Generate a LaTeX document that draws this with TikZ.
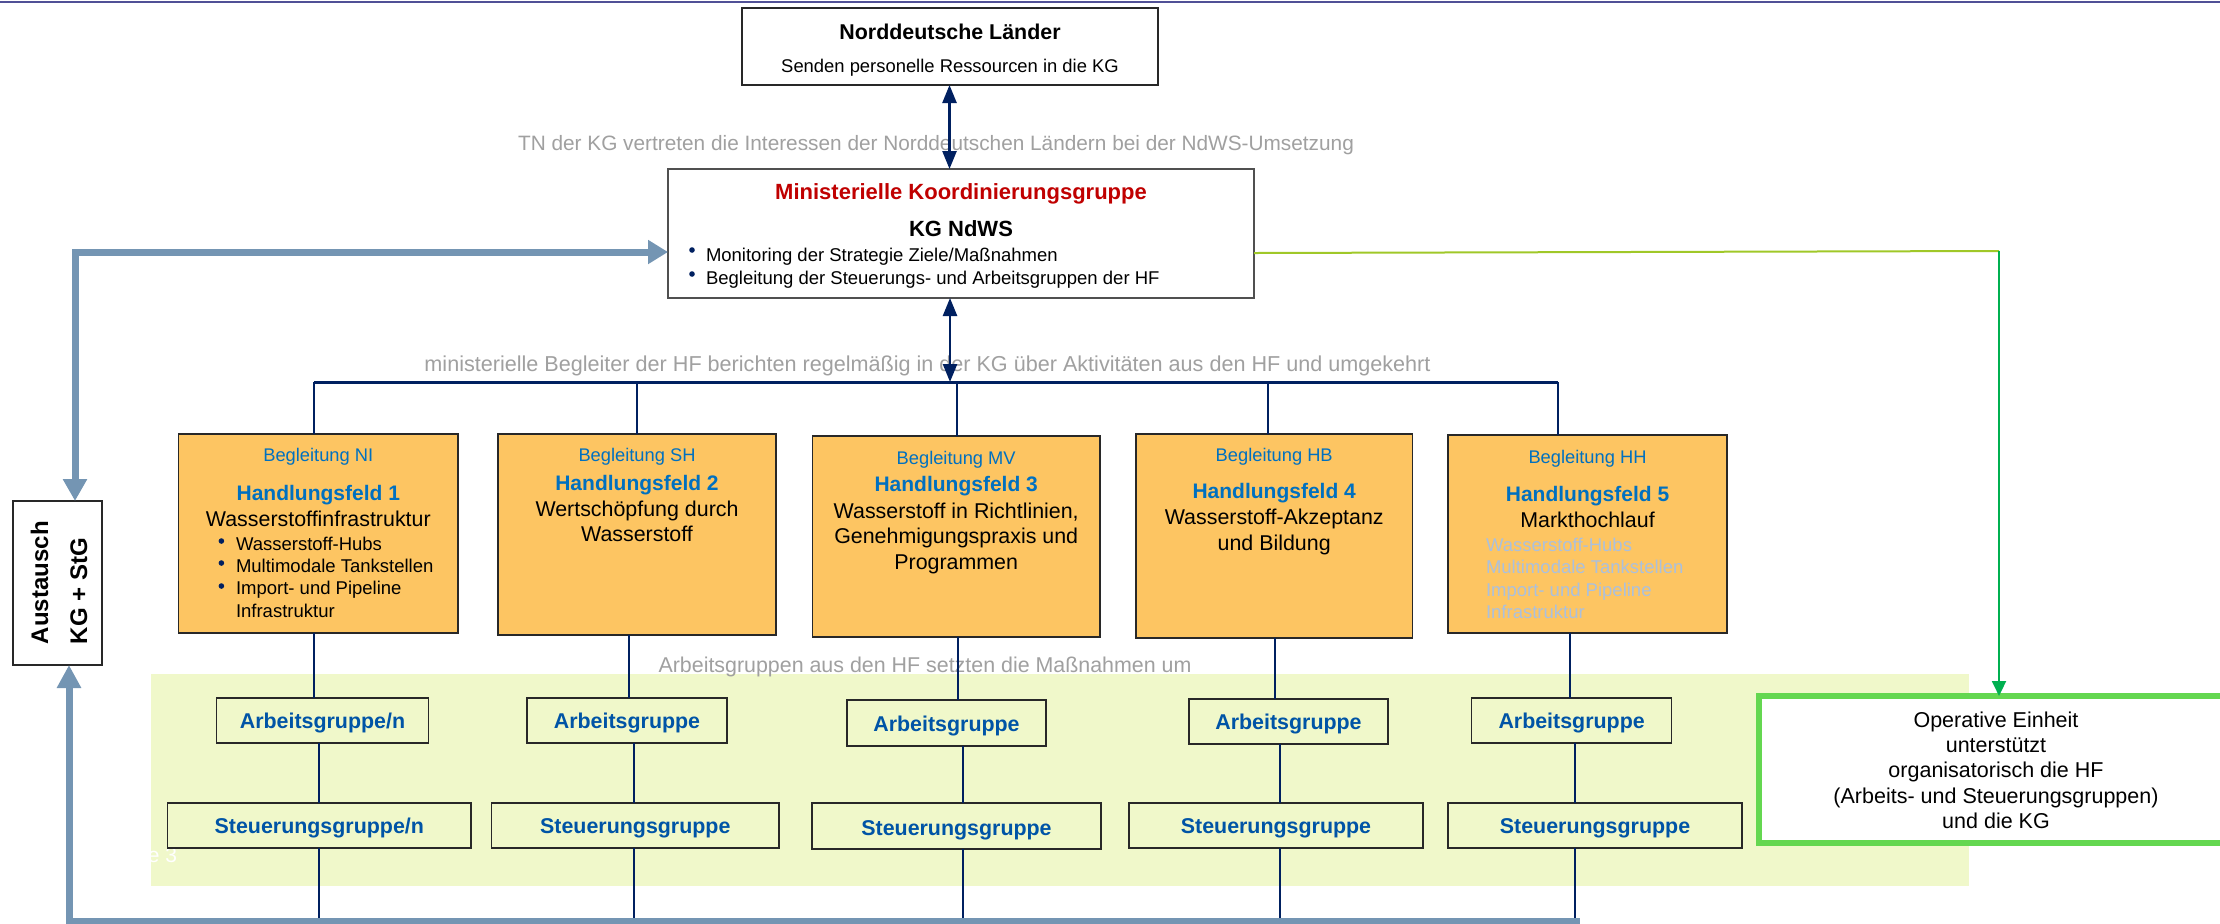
\documentclass[tikz,border=0pt]{standalone}
\usepackage{fontspec}
\setmainfont{Liberation Sans}
\usetikzlibrary{arrows.meta,fit}
\definecolor{navy}{RGB}{0,32,96}
\definecolor{steelc}{RGB}{116,149,179}
\definecolor{hforange}{RGB}{253,197,98}
\definecolor{agfill}{RGB}{240,248,202}
\definecolor{hfblue}{RGB}{0,112,192}
\definecolor{agblue}{RGB}{0,84,166}
\definecolor{kgred}{RGB}{192,0,0}
\definecolor{graytxt}{RGB}{160,160,160}
\definecolor{ygreen}{RGB}{160,200,40}
\definecolor{gline}{RGB}{0,176,80}
\definecolor{opgreen}{RGB}{100,215,80}
\definecolor{lightblue}{RGB}{170,192,222}
\definecolor{topc}{RGB}{80,80,150}
\definecolor{boxline}{RGB}{40,40,40}
\begin{document}
\begin{tikzpicture}[x=0.5pt,y=-0.5pt,
  txt/.style={anchor=base,inner sep=0pt,outer sep=0pt},
  txtl/.style={anchor=base west,inner sep=0pt,outer sep=0pt},
  fitz/.style={inner sep=0pt,outer sep=0pt},
  whitebox/.style={fitz,draw=boxline,line width=0.75pt,fill=white},
  hfbox/.style={fitz,draw=boxline,line width=0.75pt,fill=hforange},
  agbox/.style={fitz,draw=boxline,line width=0.75pt,fill=agfill},
  conn/.style={draw=navy,line width=1pt},
  dblarrow/.style={draw=navy,line width=1.25pt,{Triangle[width=7pt,length=9pt]}-{Triangle[width=7pt,length=9pt]}},
  steelline/.style={draw=steelc,line width=3.5pt},
  bul/.style={circle,fill=navy,inner sep=0pt,minimum size=2.8pt},
  fTitle/.style={font=\bfseries\fontsize{10.7}{12}\selectfont},
  fSub/.style={font=\fontsize{9.2}{11}\selectfont},
  fKG/.style={font=\bfseries\fontsize{11}{13}\selectfont},
  fBeg/.style={font=\fontsize{9.15}{11}\selectfont,text=hfblue},
  fHF/.style={font=\bfseries\fontsize{10.5}{12}\selectfont,text=hfblue},
  fDesc/.style={font=\fontsize{10.7}{12}\selectfont},
  fItem/.style={font=\fontsize{9.25}{11}\selectfont},
  fAG/.style={font=\bfseries\fontsize{10.7}{12}\selectfont,text=agblue},
  fGray/.style={font=\fontsize{10.7}{12}\selectfont,text=graytxt},
  fOp/.style={font=\fontsize{10.75}{12}\selectfont},
  fAus/.style={font=\bfseries\fontsize{12}{14}\selectfont}
]
\useasboundingbox (0,0) rectangle (2220,923);
\fill[white] (0,0) rectangle (2220,923);

% top rule
\draw[topc,line width=1.25pt] (0,2) -- (2220,2);

% green background
\node[fitz,fill=agfill,fit={(151,674) (1969,886)}] (bg) {};
\node[txt,anchor=base east,font=\fontsize{10.5}{12}\selectfont,text=white] (seite) at (177,862) {e 3};

% boxes
\node[whitebox,fit={(742,8) (1158,85)}] (nd) {};
\node[whitebox,draw={rgb,255:red,80;green,80;blue,80},fit={(668,169) (1254,298)}] (kg) {};
\node[whitebox,fit={(13,501) (102,665)}] (aus) {};
\node[fitz,draw=opgreen,line width=2.75pt,fill=white,fit={(1759,696) (2240,843)}] (op) {};

\node[hfbox,fit={(178.6,434) (458,633)}] (hf1) {};
\node[hfbox,fit={(498,434) (776,635)}] (hf2) {};
\node[hfbox,fit={(812.5,436) (1100,637)}] (hf3) {};
\node[hfbox,fit={(1136,434) (1412.5,638)}] (hf4) {};
\node[hfbox,fit={(1448,435) (1727,633)}] (hf5) {};

\node[agbox,fit={(216.7,698) (428.4,743)}] (ag1) {};
\node[agbox,fit={(527,698) (727,743)}] (ag2) {};
\node[agbox,fit={(847,700) (1046,746)}] (ag3) {};
\node[agbox,fit={(1189,699) (1388,744)}] (ag4) {};
\node[agbox,fit={(1471.6,698) (1671.6,743)}] (ag5) {};
\node[agbox,fit={(167.6,803) (471,848)}] (sg1) {};
\node[agbox,fit={(491.6,803) (779,848)}] (sg2) {};
\node[agbox,fit={(812,803) (1101,849)}] (sg3) {};
\node[agbox,fit={(1129,803) (1423,848)}] (sg4) {};
\node[agbox,fit={(1448,803) (1742,848)}] (sg5) {};

% coordinates for connectors
\coordinate (ax) at (949.5,0);
\coordinate (kx) at (950,382);
\coordinate (busL) at (314,382);
\coordinate (busR) at (1558,382);
\coordinate (d2) at (637,382);
\coordinate (d3) at (957,382);
\coordinate (d4) at (1268,382);
\coordinate (c1a) at (314,0);  \coordinate (c1b) at (319,0);
\coordinate (c2a) at (629,0);  \coordinate (c2b) at (634,0);
\coordinate (c3a) at (958,0);  \coordinate (c3b) at (963,0);
\coordinate (c4a) at (1275,0); \coordinate (c4b) at (1280,0);
\coordinate (c5a) at (1570,0); \coordinate (c5b) at (1575,0);
\coordinate (bot) at (0,921);
\coordinate (stc) at (75,252);
\coordinate (sbc) at (69,921);
\coordinate (sbR) at (1580,921);
\coordinate (gc) at (1999,251);

% gray captions
\node[txt,font=\fontsize{10.4}{12}\selectfont,text=graytxt] (cap1) at (936,150.5) {TN der KG vertreten die Interessen der Norddeutschen Ländern bei der NdWS-Umsetzung};
\node[txt,font=\fontsize{10.8}{12}\selectfont,text=graytxt] (cap2) at (927.5,371) {ministerielle Begleiter der HF berichten regelmäßig in der KG über Aktivitäten aus den HF und umgekehrt};
\node[txt,fGray] (cap3) at (925,672) {Arbeitsgruppen aus den HF setzten die Maßnahmen um};

% navy connectors
\draw[dblarrow] (nd.south -| ax) -- (kg.north -| ax);
\draw[navy,line width=1.5pt] (busL) -- (busR);
\draw[dblarrow] (kx |- kg.south) -- (kx);
\draw[conn] (busL) -- (busL |- hf1.north);
\draw[conn] (d2) -- (d2 |- hf2.north);
\draw[conn] (d3) -- (d3 |- hf3.north);
\draw[conn] (d4) -- (d4 |- hf4.north);
\draw[conn] (busR) -- (busR |- hf5.north);

\draw[conn] (c1a |- hf1.south) -- (c1a |- ag1.north);
\draw[conn] (c1b |- ag1.south) -- (c1b |- sg1.north);
\draw[conn] (c1b |- sg1.south) -- (c1b |- bot);
\draw[conn] (c2a |- hf2.south) -- (c2a |- ag2.north);
\draw[conn] (c2b |- ag2.south) -- (c2b |- sg2.north);
\draw[conn] (c2b |- sg2.south) -- (c2b |- bot);
\draw[conn] (c3a |- hf3.south) -- (c3a |- ag3.north);
\draw[conn] (c3b |- ag3.south) -- (c3b |- sg3.north);
\draw[conn] (c3b |- sg3.south) -- (c3b |- bot);
\draw[conn] (c4a |- hf4.south) -- (c4a |- ag4.north);
\draw[conn] (c4b |- ag4.south) -- (c4b |- sg4.north);
\draw[conn] (c4b |- sg4.south) -- (c4b |- bot);
\draw[conn] (c5a |- hf5.south) -- (c5a |- ag5.north);
\draw[conn] (c5b |- ag5.south) -- (c5b |- sg5.north);
\draw[conn] (c5b |- sg5.south) -- (c5b |- bot);

% steel exchange lines
\draw[steelline,{Triangle[width=11.5pt,length=11pt]}-{Triangle[width=11.5pt,length=10pt]}] (stc |- aus.north) -- (stc) -- (stc -| kg.west);
\draw[steelline,-{Triangle[width=11.5pt,length=11.5pt]}] (sbR) -- (sbc) -- (sbc |- aus.south);

% green lines
\draw[ygreen,line width=1pt] (kg.east |- 0,253) -- (gc);
\draw[gline,line width=1pt,-{Triangle[width=7pt,length=7.5pt]}] (gc) -- (gc |- op.north);

% Norddeutsche Laender
\node[txt,fTitle] (ndt) at (950,39) {Norddeutsche Länder};
\node[txt,fSub] (nds) at (950,72) {Senden personelle Ressourcen in die KG};

% KG
\node[txt,fKG,text=kgred] (kgt) at (961,199) {Ministerielle Koordinierungsgruppe};
\node[txt,fKG] (kgn) at (961,236) {KG NdWS};
\node[bul] (kb1) at (692,250) {};
\node[txtl,fItem] (kgi1) at (706,261) {Monitoring der Strategie Ziele/Maßnahmen};
\node[bul] (kb2) at (692,274) {};
\node[txtl,fItem] (kgi2) at (706,284) {Begleitung der Steuerungs- und Arbeitsgruppen der HF};

% Austausch
\node[txtl,fAus,rotate=90] (aus1) at (48,644) {Austausch};
\node[txtl,fAus,rotate=90] (aus2) at (87,644) {KG + StG};

% HF1
\node[txt,fBeg] (h1a) at (318.3,461.5) {Begleitung NI};
\node[txt,fHF] (h1b) at (318.3,500) {Handlungsfeld 1};
\node[txt,fDesc] (h1c) at (318.3,526) {Wasserstoffinfrastruktur};
\node[bul] (b11) at (221.4,541) {};
\node[txtl,fItem] (i11) at (236,550) {Wasserstoff-Hubs};
\node[bul] (b12) at (221.4,563) {};
\node[txtl,fItem] (i12) at (236,572) {Multimodale Tankstellen};
\node[bul] (b13) at (221.4,586) {};
\node[txtl,fItem] (i13) at (236,594) {Import- und Pipeline};
\node[txtl,fItem] (i14) at (236,617) {Infrastruktur};

% HF2
\node[txt,fBeg] (h2a) at (637,461.5) {Begleitung SH};
\node[txt,fHF] (h2b) at (637,490) {Handlungsfeld 2};
\node[txt,fDesc] (h2c) at (637,516) {Wertschöpfung durch};
\node[txt,fDesc] (h2d) at (637,541.5) {Wasserstoff};

% HF3
\node[txt,fBeg] (h3a) at (956.2,464) {Begleitung MV};
\node[txt,fHF] (h3b) at (956.2,491) {Handlungsfeld 3};
\node[txt,fDesc] (h3c) at (956.2,518) {Wasserstoff in Richtlinien,};
\node[txt,fDesc] (h3d) at (956.2,543) {Genehmigungspraxis und};
\node[txt,fDesc] (h3e) at (956.2,569) {Programmen};

% HF4
\node[txt,fBeg] (h4a) at (1274.2,461.5) {Begleitung HB};
\node[txt,fHF] (h4b) at (1274.2,498) {Handlungsfeld 4};
\node[txt,fDesc] (h4c) at (1274.2,524) {Wasserstoff-Akzeptanz};
\node[txt,fDesc] (h4d) at (1274.2,550) {und Bildung};

% HF5
\node[txt,fBeg] (h5a) at (1587.5,463) {Begleitung HH};
\node[txt,fHF] (h5b) at (1587.5,501.5) {Handlungsfeld 5};
\node[txt,fDesc] (h5c) at (1587.5,527.5) {Markthochlauf};
\node[txtl,fItem,text=lightblue] (i51) at (1486,551) {Wasserstoff-Hubs};
\node[txtl,fItem,text=lightblue] (i52) at (1486,573) {Multimodale Tankstellen};
\node[txtl,fItem,text=lightblue] (i53) at (1486,596) {Import- und Pipeline};
\node[txtl,fItem,text=lightblue] (i54) at (1486,618) {Infrastruktur};

% Arbeitsgruppen / Steuerungsgruppen
\node[txt,fAG] (ag1t) at (322.5,728) {Arbeitsgruppe/n};
\node[txt,fAG] (ag2t) at (627,728) {Arbeitsgruppe};
\node[txt,fAG] (ag3t) at (946.5,731) {Arbeitsgruppe};
\node[txt,fAG] (ag4t) at (1288.5,729) {Arbeitsgruppe};
\node[txt,fAG] (ag5t) at (1571.6,728) {Arbeitsgruppe};
\node[txt,fAG] (sg1t) at (319.3,833.5) {Steuerungsgruppe/n};
\node[txt,fAG] (sg2t) at (635.3,833.5) {Steuerungsgruppe};
\node[txt,fAG] (sg3t) at (956.5,835) {Steuerungsgruppe};
\node[txt,fAG] (sg4t) at (1276,833.5) {Steuerungsgruppe};
\node[txt,fAG] (sg5t) at (1595,833.5) {Steuerungsgruppe};

% Operative Einheit
\node[txt,fOp] (op1) at (1996,727) {Operative Einheit};
\node[txt,fOp] (op2) at (1996,752) {unterstützt};
\node[txt,fOp] (op3) at (1996,777) {organisatorisch die HF};
\node[txt,fOp] (op4) at (1996,803) {(Arbeits- und Steuerungsgruppen)};
\node[txt,fOp] (op5) at (1996,828) {und die KG};
\end{tikzpicture}
\end{document}
